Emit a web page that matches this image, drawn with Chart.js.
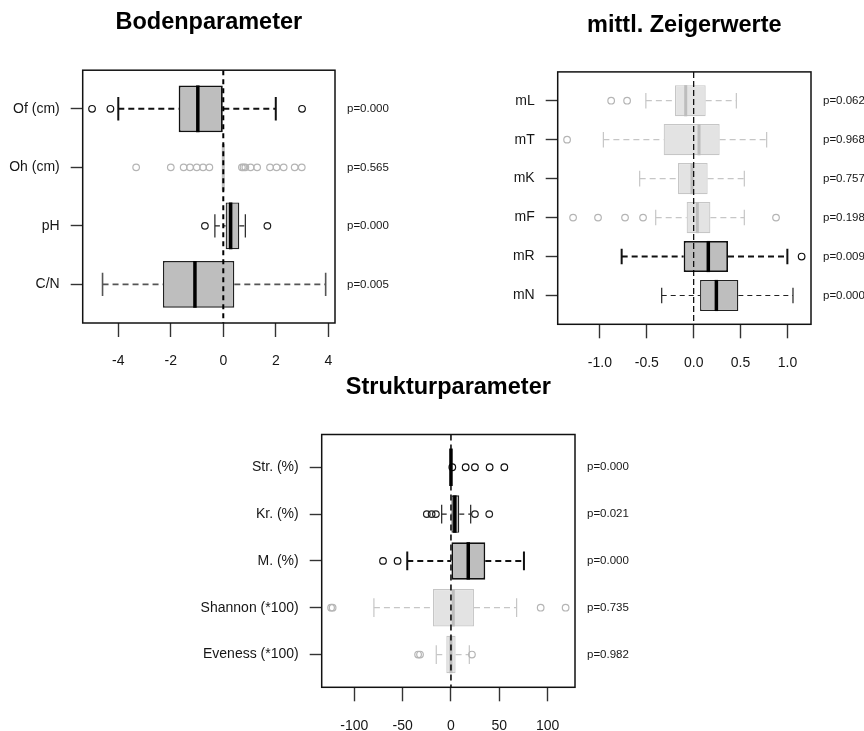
<!DOCTYPE html>
<html>
<head>
<meta charset="utf-8">
<script src="https://cdn.jsdelivr.net/npm/chart.js@4.4.1/dist/chart.umd.min.js"></script>
<style>
  body { margin: 0; background: #fff; width: 864px; height: 731px; position: relative; overflow: hidden; }
  .panel { position: absolute; }
</style>
</head>
<body>
<div class="panel" style="left:0;top:0;width:432px;height:380px"><canvas id="boden"></canvas></div>
<div class="panel" style="left:432px;top:0;width:432px;height:380px"><canvas id="zeiger"></canvas></div>
<div class="panel" style="left:170px;top:360px;width:480px;height:371px"><canvas id="struktur"></canvas></div>
<script>
// Bodenparameter
var bodenCats = ['Of (cm)', 'Oh (cm)', 'pH', 'C/N'];
var bodenLow  = [-4.0, 0, -0.32, -4.6];
var bodenQ1   = [-1.7, 0, 0.09, -2.3];
var bodenMed  = [-0.97, 0, 0.28, -1.08];
var bodenQ3   = [0, 0, 0.61, 0.42];
var bodenHigh = [2.0, 0, 0.84, 3.9];
var bodenOut  = [[-5.0, -4.3, 3.0],
                 [-3.32, -2.0, -1.51, -1.27, -1.01, -0.77, -0.53, 0.71, 0.77, 0.84, 1.04, 1.29, 1.78, 2.03, 2.3, 2.72, 2.99],
                 [-0.7, 1.68],
                 []];
var bodenP = ['p=0.000', 'p=0.565', 'p=0.000', 'p=0.005'];
var bodenTicks = [-4, -2, 0, 2, 4];
var bodenTickLabels = ['-4', '-2', '0', '2', '4'];

// mittl. Zeigerwerte
var zeigerCats = ['mL', 'mT', 'mK', 'mF', 'mR', 'mN'];
var zeigerLow  = [-0.51, -0.963, -0.576, -0.405, -0.768, -0.341];
var zeigerQ1   = [-0.20, -0.32, -0.167, -0.075, -0.107, 0.068];
var zeigerMed  = [-0.085, 0.057, -0.018, 0.039, 0.156, 0.242];
var zeigerQ3   = [0.128, 0.277, 0.149, 0.178, 0.366, 0.476];
var zeigerHigh = [0.455, 0.778, 0.54, 0.54, 0.999, 1.059];
var zeigerOut  = [[-0.88, -0.71], [-1.35], [], [-1.286, -1.02, -0.732, -0.54, 0.878], [1.151], []];
var zeigerP = ['p=0.062', 'p=0.968', 'p=0.757', 'p=0.198', 'p=0.009', 'p=0.000'];
var zeigerTicks = [-1, -0.5, 0, 0.5, 1];
var zeigerTickLabels = ['-1.0', '-0.5', '0.0', '0.5', '1.0'];

// Strukturparameter
var strukCats = ['Str. (%)', 'Kr. (%)', 'M. (%)', 'Shannon (*100)', 'Eveness (*100)'];
var strukLow  = [0, -9.6, -45.2, -79.7, -15.2];
var strukQ1   = [0, 0.5, 0, -18.6, -4.8];
var strukMed  = [0, 4, 17.9, 2.4, 0];
var strukQ3   = [0, 8.6, 35.5, 23.8, 4.8];
var strukHigh = [0, 20.4, 75.5, 67.9, 19];
var strukOut  = [[1.4, 15.2, 24.8, 40, 55.2],
                 [-25, -20, -15.6, 24.8, 39.6],
                 [-70.3, -55.2],
                 [-124, -122.4, 92.8, 118.6],
                 [-34, -32, 21.7]];
var strukP = ['p=0.000', 'p=0.021', 'p=0.000', 'p=0.735', 'p=0.982'];
var strukTicks = [-100, -50, 0, 50, 100];
var strukTickLabels = ['-100', '-50', '0', '50', '100'];

var FONT = "'Liberation Sans', Arial, sans-serif";
var TXT = '#161616';

var looks = {
  bold:  { fill: '#BEBEBE', border: '#111', boxW: 1.8, whisker: '#111', whiskW: 2.0, dash: [6, 4], med: '#000', medW: 3.5, out: '#111' },
  black: { fill: '#BEBEBE', border: '#222', boxW: 1.3, whisker: '#222', whiskW: 1.2, dash: [5, 4], med: '#000', medW: 3.5, out: '#222' },
  gray:  { fill: '#BEBEBE', border: '#222', boxW: 1.5, whisker: '#555', whiskW: 1.6, dash: [6, 4], med: '#000', medW: 3.5, out: '#555' },
  faint: { fill: '#E3E3E3', border: '#C6C6C6', boxW: 1.2, whisker: '#C6C6C6', whiskW: 1.2, dash: [6, 4], med: '#BDBDBD', medW: 3, out: '#B5B5B5' }
};

function extrasPlugin(p) {
  return {
    id: 'boxExtras',
    beforeDatasetsDraw: function (chart) {
      var ctx = chart.ctx, xs = chart.scales.x, ys = chart.scales.y;
      p.cats.forEach(function (c, i) {
        var s = looks[p.kind[i]];
        var yc = ys.getPixelForValue(i + 1);
        var cap = Math.abs(ys.getPixelForValue(i + 1.2) - yc);
        var xl = xs.getPixelForValue(p.low[i]), x1 = xs.getPixelForValue(p.q1[i]);
        var x3 = xs.getPixelForValue(p.q3[i]), xh = xs.getPixelForValue(p.high[i]);
        if (xl === xh) return;
        ctx.save();
        ctx.strokeStyle = s.whisker;
        ctx.lineWidth = s.whiskW;
        ctx.setLineDash(s.dash);
        ctx.beginPath();
        ctx.moveTo(xl, yc); ctx.lineTo(x1, yc);
        ctx.moveTo(x3, yc); ctx.lineTo(xh, yc);
        ctx.stroke();
        ctx.setLineDash([]);
        ctx.beginPath();
        ctx.moveTo(xl, yc - cap); ctx.lineTo(xl, yc + cap);
        ctx.moveTo(xh, yc - cap); ctx.lineTo(xh, yc + cap);
        ctx.stroke();
        ctx.restore();
      });
    },
    afterDatasetsDraw: function (chart) {
      var ctx = chart.ctx, xs = chart.scales.x, ys = chart.scales.y, a = chart.chartArea;
      ctx.save();
      p.cats.forEach(function (c, i) {
        var s = looks[p.kind[i]];
        var half = Math.abs(ys.getPixelForValue(i + 1.4) - ys.getPixelForValue(i + 1));
        var yc = ys.getPixelForValue(i + 1);
        var xm = xs.getPixelForValue(p.med[i]);
        ctx.strokeStyle = s.med;
        ctx.lineWidth = s.medW;
        ctx.beginPath();
        ctx.moveTo(xm, yc - half); ctx.lineTo(xm, yc + half);
        ctx.stroke();
      });
      // zero reference line
      var x0 = xs.getPixelForValue(0);
      ctx.strokeStyle = '#000';
      ctx.lineWidth = p.zeroW;
      ctx.setLineDash(p.zeroDash);
      ctx.beginPath();
      ctx.moveTo(x0, a.top); ctx.lineTo(x0, a.bottom);
      ctx.stroke();
      ctx.setLineDash([]);
      ctx.lineWidth = 1.5;
      ctx.strokeStyle = '#111';
      ctx.strokeRect(a.left, a.top, a.right - a.left, a.bottom - a.top);
      ctx.restore();
    }
  };
}

function makePanel(id, p) {
  var n = p.cats.length;
  var all = p.low.concat(p.high);
  p.out.forEach(function (o) { all = all.concat(o); });
  var lo = Math.min.apply(null, all), hi = Math.max.apply(null, all);
  var xMin = lo - 0.04 * (hi - lo), xMax = hi + 0.04 * (hi - lo);
  var yMin = 0.5 - 0.04 * n, yMax = n + 0.5 + 0.04 * n;

  var pts = [];
  p.out.forEach(function (o, i) { o.forEach(function (v) { pts.push({ x: v, y: i + 1 }); }); });

  function rowTicks(s) { s.ticks = p.cats.map(function (c, i) { return { value: i + 1 }; }); }

  new Chart(document.getElementById(id), {
    type: 'bar',
    data: {
      datasets: [{
        type: 'bar',
        data: p.cats.map(function (c, i) { return { x: [p.q1[i], p.q3[i]], y: i + 1 }; }),
        backgroundColor: p.kind.map(function (k) { return looks[k].fill; }),
        borderColor: p.kind.map(function (k) { return looks[k].border; }),
        borderWidth: p.kind.map(function (k) { return looks[k].boxW; }),
        borderSkipped: false,
        categoryPercentage: 0.8,
        barPercentage: 1,
        xAxisID: 'x', yAxisID: 'y'
      }, {
        type: 'scatter',
        data: pts,
        pointStyle: 'circle',
        pointRadius: 3.3,
        pointBorderWidth: 1.2,
        pointBackgroundColor: 'rgba(0,0,0,0)',
        pointBorderColor: pts.map(function (pt) { return looks[p.kind[pt.y - 1]].out; }),
        xAxisID: 'x', yAxisID: 'y'
      }]
    },
    options: {
      responsive: true,
      maintainAspectRatio: false,
      animation: false,
      indexAxis: 'y',
      layout: { padding: 0 },
      plugins: {
        legend: { display: false },
        tooltip: { enabled: false },
        title: {
          display: true,
          text: p.title,
          fullSize: false,
          color: '#000',
          font: { family: FONT, size: 23.5, weight: 'bold' },
          padding: { top: p.titleTop, bottom: p.titleBottom }
        }
      },
      scales: {
        x: {
          type: 'linear', position: 'bottom', min: xMin, max: xMax,
          afterBuildTicks: function (s) { s.ticks = p.ticks.map(function (v) { return { value: v }; }); },
          afterFit: function (s) { s.height = p.xH; },
          ticks: {
            autoSkip: false, maxRotation: 0, padding: 16, color: TXT,
            font: { family: FONT, size: 14 },
            callback: function (v, i) { return p.tickLabels[i]; }
          },
          grid: { drawOnChartArea: false, drawTicks: true, tickLength: 14, tickColor: '#333', tickWidth: 1.4 },
          border: { display: false }
        },
        y: {
          type: 'linear', position: 'left', reverse: true, min: yMin, max: yMax, offset: false,
          afterBuildTicks: rowTicks,
          afterFit: function (s) { s.width = p.yW; },
          ticks: {
            autoSkip: false, padding: 11, color: TXT,
            font: { family: FONT, size: 14 },
            callback: function (v) { return p.cats[Math.round(v) - 1]; }
          },
          grid: { offset: false, drawOnChartArea: false, drawTicks: true, tickLength: 12, tickColor: '#333', tickWidth: 1.4 },
          border: { display: false }
        },
        yp: {
          type: 'linear', position: 'right', reverse: true, min: yMin, max: yMax, offset: false,
          afterBuildTicks: rowTicks,
          afterFit: function (s) { s.width = p.pW; },
          ticks: {
            autoSkip: false, padding: 12, color: TXT,
            font: { family: FONT, size: 11.5 },
            callback: function (v) { return p.pvals[Math.round(v) - 1]; }
          },
          grid: { offset: false, display: false, drawTicks: false },
          border: { display: false }
        }
      }
    },
    plugins: [extrasPlugin(p)]
  });
}

makePanel('boden', {
  title: 'Bodenparameter', cats: bodenCats, low: bodenLow, q1: bodenQ1, med: bodenMed, q3: bodenQ3, high: bodenHigh,
  out: bodenOut, pvals: bodenP, ticks: bodenTicks, tickLabels: bodenTickLabels,
  kind: ['bold', 'faint', 'black', 'gray'],
  zeroW: 2, zeroDash: [5, 4],
  yW: 82.7, pW: 97, xH: 57, titleTop: 8, titleBottom: 34
});

makePanel('zeiger', {
  title: 'mittl. Zeigerwerte', cats: zeigerCats, low: zeigerLow, q1: zeigerQ1, med: zeigerMed, q3: zeigerQ3, high: zeigerHigh,
  out: zeigerOut, pvals: zeigerP, ticks: zeigerTicks, tickLabels: zeigerTickLabels,
  kind: ['faint', 'faint', 'faint', 'faint', 'bold', 'black'],
  zeroW: 1.2, zeroDash: [6, 3],
  yW: 125.7, pW: 53, xH: 55.7, titleTop: 11, titleBottom: 32.7
});

makePanel('struktur', {
  title: 'Strukturparameter', cats: strukCats, low: strukLow, q1: strukQ1, med: strukMed, q3: strukQ3, high: strukHigh,
  out: strukOut, pvals: strukP, ticks: strukTicks, tickLabels: strukTickLabels,
  kind: ['bold', 'black', 'bold', 'faint', 'faint'],
  zeroW: 1.5, zeroDash: [6, 4],
  yW: 151.7, pW: 75, xH: 43.7, titleTop: 13, titleBottom: 33.3
});
</script>
</body>
</html>
